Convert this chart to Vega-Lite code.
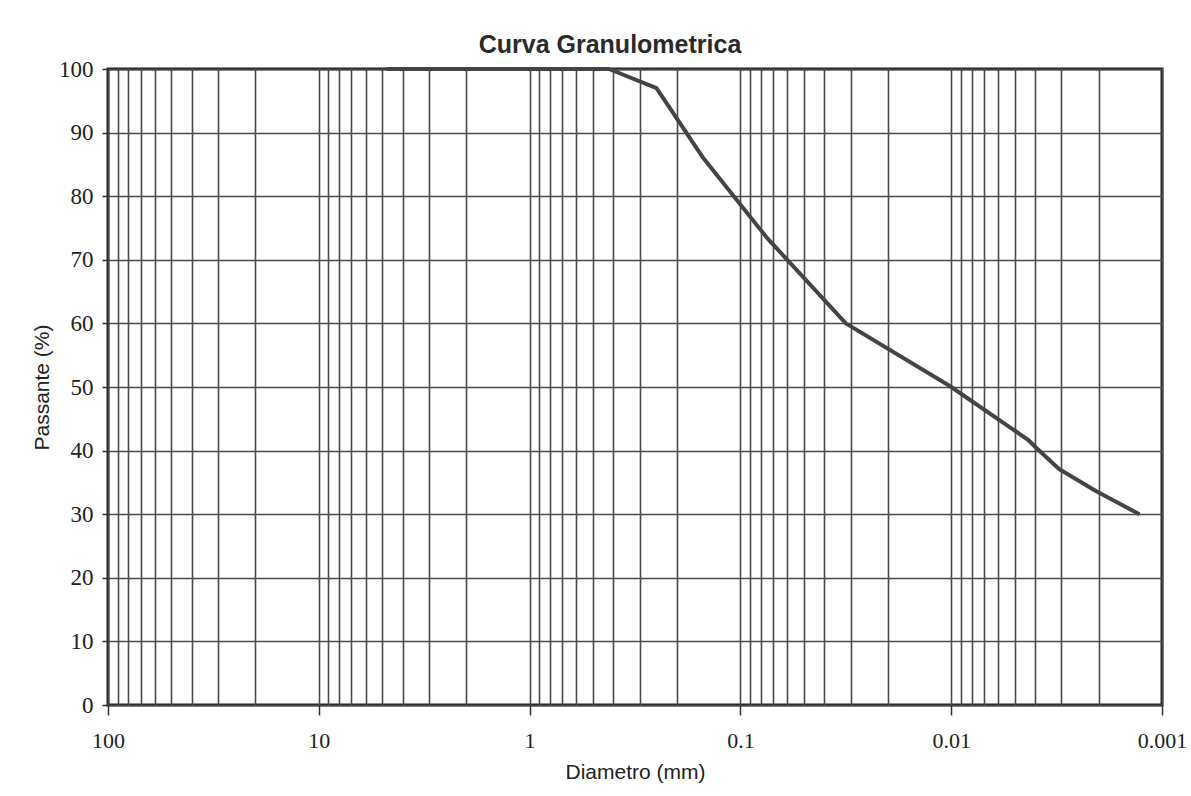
{
  "$schema": "https://vega.github.io/schema/vega-lite/v6.json",
  "autosize": "none",
  "width": 1054,
  "height": 636,
  "padding": {"top": 69, "left": 108, "right": 29, "bottom": 91},
  "background": "white",
  "title": {
    "text": "Curva Granulometrica",
    "font": "Liberation Sans",
    "fontSize": 25,
    "fontWeight": "bold",
    "color": "#2a2a2a",
    "anchor": "middle",
    "offset": 0,
    "dx": -25
  },
  "data": {
    "values": [
      {"d": 4.76, "p": 100},
      {"d": 2.0, "p": 100},
      {"d": 0.84, "p": 100},
      {"d": 0.42, "p": 100},
      {"d": 0.25, "p": 97},
      {"d": 0.15, "p": 86},
      {"d": 0.075, "p": 73.5},
      {"d": 0.0316, "p": 60},
      {"d": 0.0102, "p": 50.2},
      {"d": 0.00432, "p": 41.7},
      {"d": 0.004, "p": 40.6},
      {"d": 0.00308, "p": 37.1},
      {"d": 0.00205, "p": 33.6},
      {"d": 0.00128, "p": 30}
    ]
  },
  "mark": {"type": "line", "color": "#444444", "strokeWidth": 4, "strokeJoin": "round"},
  "encoding": {
    "x": {
      "field": "d",
      "type": "quantitative",
      "scale": {"type": "log", "domain": [0.001, 100], "reverse": true, "nice": false},
      "axis": {
        "title": "Diametro (mm)",
        "titleFont": "Liberation Sans",
        "titleFontSize": 21,
        "titleFontWeight": "normal",
        "titleColor": "#222222",
        "titlePadding": 10,
        "values": [0.001,0.002,0.003,0.004,0.005,0.006,0.007,0.008,0.009,0.01,0.02,0.03,0.04,0.05,0.06,0.07,0.08,0.09,0.1,0.2,0.3,0.4,0.5,0.6,0.7,0.8,0.9,1,2,3,4,5,6,7,8,9,10,20,30,40,50,60,70,80,90,100],
        "labelExpr": "indexof([0.001,0.01,0.1,1,10,100], datum.value) >= 0 ? format(datum.value, '~g') : ''",
        "labelFont": "Liberation Serif",
        "labelFontSize": 22,
        "labelColor": "#222222",
        "labelPadding": 15,
        "labelOverlap": false,
        "labelFlush": false,
        "domain": false,
        "grid": true,
        "gridColor": "#4a4a4a",
        "gridWidth": 1.6,
        "gridOpacity": 1,
        "tickColor": "#333333",
        "tickWidth": 1.5,
        "tickSize": {"condition": {"test": "indexof([0.001,0.01,0.1,1,10,100], datum.value) >= 0", "value": 10}, "value": 0}
      }
    },
    "y": {
      "field": "p",
      "type": "quantitative",
      "scale": {"domain": [0, 100], "nice": false},
      "axis": {
        "title": "Passante (%)",
        "titleFont": "Liberation Sans",
        "titleFontSize": 21,
        "titleFontWeight": "normal",
        "titleColor": "#222222",
        "titlePadding": 6,
        "values": [0,10,20,30,40,50,60,70,80,90,100],
        "labelFont": "Liberation Serif",
        "labelFontSize": 23,
        "labelColor": "#222222",
        "labelPadding": 9,
        "domain": false,
        "grid": true,
        "gridColor": "#4a4a4a",
        "gridWidth": 1.6,
        "gridOpacity": 1,
        "tickColor": "#333333",
        "tickWidth": 1.5,
        "tickSize": 6
      }
    }
  },
  "config": {
    "view": {"stroke": "#222222", "strokeWidth": 3}
  }
}
